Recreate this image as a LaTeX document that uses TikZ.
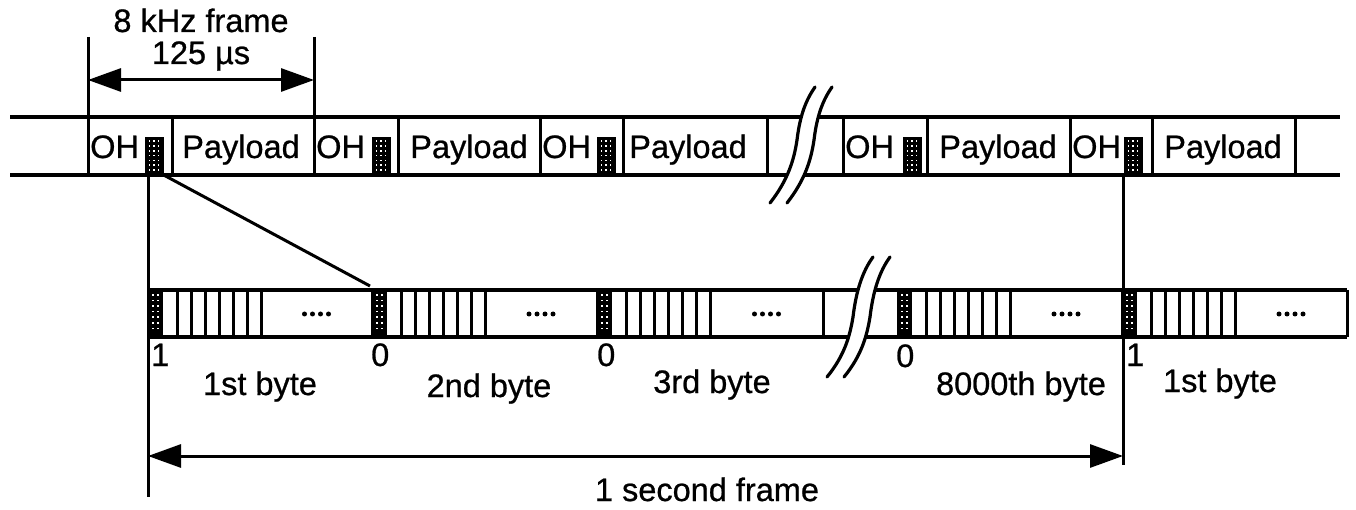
\documentclass[tikz,border=0pt]{standalone}
\usepackage{fontspec}
\setmainfont{Liberation Sans}
\newfontfamily\lblfont{Liberation Sans}[FakeBold=0.7]
\usetikzlibrary{arrows.meta}
\newcommand\mytmark[2]{%
  \node[tmk, anchor=north west] (#2) at (#1,137) {};
  \foreach \i in {0,1,2}{\foreach \j in {0,...,6}{\fill[white] (#1+3.5+\i*4.6,140.5+\j*4.8) rectangle ++(1.6,1.6);}}%
}
\newcommand\mylmark[2]{%
  \node[lmk, anchor=north west] (#2) at (#1,290) {};
  \foreach \i in {0,1}{\foreach \j in {0,...,6}{\fill[white] (#1+4+\i*5,294+\j*5.6) rectangle ++(1.6,1.6);}}%
}
\begin{document}
\begin{tikzpicture}[x=1pt,y=-1pt,
  band/.style={line width=3.4pt},
  cell/.style={line width=3pt},
  tmk/.style={fill=black, draw=none, inner sep=0pt, minimum width=19pt, minimum height=38pt},
  lmk/.style={fill=black, draw=none, inner sep=0pt, minimum width=15pt, minimum height=47pt},
  lbl/.style={font=\lblfont\fontsize{32.5}{36}\selectfont, inner sep=0pt, anchor=base},
  dim/.style={line width=3pt, {Triangle[length=33pt,width=23pt]}-{Triangle[length=33pt,width=23pt]}},
  brk/.style={line width=3.2pt, line cap=round}
]
\useasboundingbox[fill=white] (0,0) rectangle (1356,510);

% ---------- top band ----------
\draw[band] (10,117) -- (1340,117);
\draw[band] (10,175) -- (1340,175);
\foreach \x in {88,172,314,398,540,623,767,843,927,1070,1152,1295}
  {\draw[cell] (\x,117) -- (\x,175);}
\foreach \x/\n in {145/t1,372/t2,597/t3,903/t4,1124/t5}
  {\mytmark{\x}{\n}}

% top dimension
\coordinate (d1) at (88,80);
\coordinate (d2) at (314,80);
\coordinate (d1t) at (88,37);
\coordinate (d2t) at (314,37);
\draw[cell] (d1t) -- (88,117);
\draw[cell] (d2t) -- (314,117);
\draw[dim] (d1) -- (d2);
\node[lbl] (f8) at (201,32) {8 kHz frame};
\node[lbl] (f125) at (201,64) {125 µs};

% top texts
\foreach \x/\n in {90/oh1,316/oh2,542/oh3,845/oh4,1072/oh5}
  {\node[lbl, anchor=base west] (\n) at (\x,158) {OH};}
\foreach \x/\n in {241/pl1,469/pl2,688/pl3,998/pl4,1223/pl5}
  {\node[lbl] (\n) at (\x,158) {Payload};}

% ---------- lower band ----------
\draw[band] (148,290) -- (1347,290);
\draw[band] (148,337) -- (1347,337);
\foreach \b/\e/\n in {148/372/l1,372/597/l2,597/823/l3,897/1122/l4,1122/1347/l5}{
  \mylmark{\b}{\n}
  \foreach \k in {0,...,6}
    {\draw[cell] (\b+29+14*\k,290) -- (\b+29+14*\k,337);}
  \draw[cell] (\e,290) -- (\e,337);
  \pgfmathsetmacro\cx{(\b+113+\e)/2}
  \foreach \k in {0,...,3}
    {\fill (\cx-12+8*\k,314) circle (2.5);}
}

% ---------- break symbols ----------
\fill[white] (770,203) .. controls (788,180) and (794,160) .. (797,140)
  .. controls (800,115) and (806,100) .. (815,87) -- (832,87)
  .. controls (823,100) and (817,115) .. (814,140)
  .. controls (811,160) and (805,180) .. (787,203) -- cycle;
\draw[brk] (770,203) .. controls (788,180) and (794,160) .. (797,140)
  .. controls (800,115) and (806,100) .. (815,87);
\draw[brk] (787,203) .. controls (805,180) and (811,160) .. (814,140)
  .. controls (817,115) and (823,100) .. (832,87);

\fill[white] (827,377) .. controls (845,355) and (850,335) .. (853,317)
  .. controls (856,292) and (862,272) .. (873,257) -- (890,257)
  .. controls (879,272) and (873,292) .. (870,317)
  .. controls (867,335) and (862,355) .. (844,377) -- cycle;
\draw[brk] (827,377) .. controls (845,355) and (850,335) .. (853,317)
  .. controls (856,292) and (862,272) .. (873,257);
\draw[brk] (844,377) .. controls (862,355) and (867,335) .. (870,317)
  .. controls (873,292) and (879,272) .. (890,257);

% ---------- connectors ----------
\coordinate (lend) at (148,497);
\coordinate (rend) at (1123,465);
\coordinate (dg) at (370,286);
\draw[cell] (l1.north west |- t1.south) -- (lend);
\draw[cell] (rend |- t5.south) -- (rend);
\draw[cell] (t1.south east) -- (dg);
\coordinate (s1) at (148,456);
\coordinate (s2) at (1123,456);
\draw[dim] (s1) -- (s2);

% ---------- lower labels ----------
\node[lbl, anchor=base west] (b1) at (151,366) {1};
\node[lbl, anchor=base west] (b2) at (371,366) {0};
\node[lbl, anchor=base west] (b3) at (597,366) {0};
\node[lbl, anchor=base west] (b4) at (896,367) {0};
\node[lbl, anchor=base west] (b5) at (1126,366) {1};
\node[lbl] (by1) at (260,395) {1st byte};
\node[lbl] (by2) at (489,397) {2nd byte};
\node[lbl] (by3) at (712,393) {3rd byte};
\node[lbl] (by4) at (1021,395) {8000th byte};
\node[lbl] (by5) at (1220,392) {1st byte};
\node[lbl] (sec) at (707,501) {1 second frame};
\end{tikzpicture}
\end{document}
